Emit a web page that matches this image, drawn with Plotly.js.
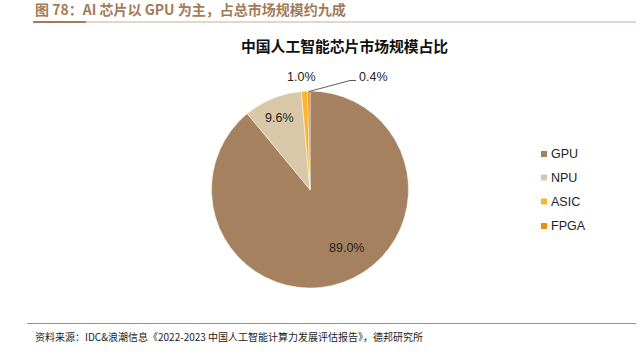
<!DOCTYPE html>
<html><head><meta charset="utf-8">
<script src="https://cdn.plot.ly/plotly-3.0.1.min.js"></script>
<style>body{margin:0;padding:0;background:#fff}#chart{width:639px;height:355px}</style>
</head><body><div id="chart"></div>
<script>
const categories = ["GPU", "NPU", "ASIC", "FPGA"];
const shares = [89.0, 9.6, 1.0, 0.4];
const colors = ["#A68160", "#D9C8A7", "#F8B52E", "#F38B0C"];
const figTitle = "图 78：AI 芯片以 GPU 为主，占总市场规模约九成";
const chartTitle = "中国人工智能芯片市场规模占比";
const sourceText = "资料来源：IDC&浪潮信息《2022-2023 中国人工智能计算力发展评估报告》，德邦研究所";

const W = 639, H = 355;
const cn = "Noto Sans CJK SC";
const lat = "Liberation Sans, Arial, sans-serif";
const fmt = v => v.toFixed(1) + "%";
const px = x => x / W;
const py = y => 1 - y / H;

const trace = {
  type: "pie",
  labels: categories,
  values: shares,
  sort: false,
  direction: "clockwise",
  rotation: 0,
  marker: {colors: colors, line: {color: "#ffffff", width: 0.5}},
  textinfo: "none",
  domain: {x: [px(211.5), px(408.5)], y: [py(288), py(91)]},
  showlegend: false,
  hoverinfo: "label+percent"
};

// label positions (pixels) for each slice's percentage
const labelPos = [[346, 248], [279, 118], [301, 77.5], [373, 77.5]];

const annotations = [
  {xref: "paper", yref: "paper", x: px(33), y: py(9), xanchor: "left", yanchor: "middle",
   text: "<b>" + figTitle + "</b>", showarrow: false, font: {family: cn, size: 14, color: "#A27B57"}},
  {xref: "paper", yref: "paper", x: px(344), y: py(45), xanchor: "center", yanchor: "middle",
   text: "<b>" + chartTitle + "</b>", showarrow: false, font: {family: cn, size: 14.8, color: "#111"}},
  {xref: "paper", yref: "paper", x: px(33), y: py(336), xanchor: "left", yanchor: "middle",
   text: sourceText, showarrow: false, font: {family: cn, size: 10, color: "#222"}}
];
shares.forEach((v, i) => {
  annotations.push({xref: "paper", yref: "paper", x: px(labelPos[i][0]), y: py(labelPos[i][1]),
    xanchor: "center", yanchor: "middle", text: fmt(v), showarrow: false,
    font: {family: lat, size: 12.5, color: "#222"}});
});

const shapes = [
  {type: "line", xref: "paper", yref: "paper", x0: px(33), x1: px(636), y0: py(22), y1: py(22), line: {color: "#B89A7E", width: 0.8}},
  {type: "line", xref: "paper", yref: "paper", x0: px(33), x1: px(86), y0: py(22), y1: py(22), line: {color: "#A27B57", width: 2}},
  {type: "line", xref: "paper", yref: "paper", x0: px(27), x1: px(636), y0: py(323.5), y1: py(323.5), line: {color: "#A89078", width: 1}},
  {type: "path", xref: "paper", yref: "paper",
   path: `M ${px(309)} ${py(91.5)} L ${px(350)} ${py(80.5)} L ${px(356)} ${py(80.5)}`,
   line: {color: "#333", width: 0.8}}
];

// legend built from the categories and colours
const legendY = [154, 177.5, 201.5, 226];
categories.forEach((c, i) => {
  shapes.push({type: "rect", xref: "paper", yref: "paper",
    x0: px(541), x1: px(547), y0: py(legendY[i] + 3), y1: py(legendY[i] - 3),
    fillcolor: colors[i], line: {width: 0}});
  annotations.push({xref: "paper", yref: "paper", x: px(548.5), y: py(legendY[i]),
    xanchor: "left", yanchor: "middle", text: c, showarrow: false,
    font: {family: lat, size: 12.5, color: "#222"}});
});

const layout = {
  width: W, height: H,
  margin: {l: 0, r: 0, t: 0, b: 0},
  paper_bgcolor: "#fff",
  showlegend: false,
  annotations: annotations,
  shapes: shapes
};

Plotly.newPlot("chart", [trace], layout, {displayModeBar: false, staticPlot: true});
</script></body></html>
